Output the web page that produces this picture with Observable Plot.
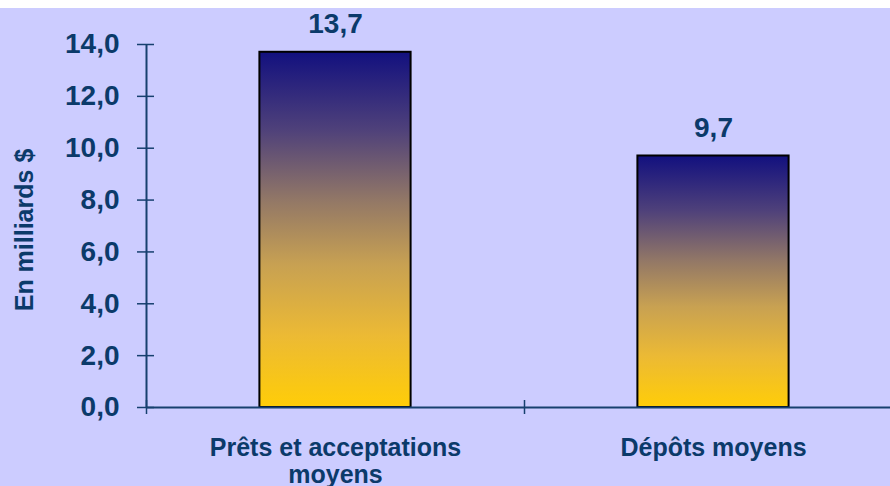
<!DOCTYPE html>
<html><head><meta charset="utf-8">
<script src="https://cdn.jsdelivr.net/npm/d3@7"></script>
<script src="https://cdn.jsdelivr.net/npm/@observablehq/plot@0.6"></script>
<style>
html,body{margin:0;padding:0;background:#ffffff;}
body{padding-top:8px;}
#chart svg{display:block;}
</style></head><body><div id="chart"></div>
<script>
const categories = ["Prêts et acceptations\nmoyens", "Dépôts moyens"];
const values = [13.7, 9.7];
const yTicks = [0, 2, 4, 6, 8, 10, 12, 14];
const yTitle = "En milliards $";
const separators = [0, 1, 2];

const textColor = "#0b3a6a";
const lineColor = "#17406f";
const fmt = d => d.toFixed(1).replace(".", ",");
const data = categories.map((c, i) => ({category: c, value: values[i], pos: i + 0.5}));

const svg = Plot.plot({
  width: 890,
  height: 478,
  marginLeft: 146,
  marginRight: 0,
  marginTop: 36,
  marginBottom: 79,
  x: {domain: [0, 2], range: [146, 902], label: null},
  y: {domain: [0, 14], label: null},
  style: {background: "#ccccff", fontFamily: "'Liberation Sans', Arial, sans-serif", fontWeight: "bold", color: textColor},
  marks: [
    Plot.rectY(data, {x1: d => d.pos - 0.2, x2: d => d.pos + 0.2, y1: 0, y2: "value", fill: "url(#barGrad)", stroke: "#000000", strokeWidth: 2}),
    Plot.ruleX([0], {y1: 0, y2: 14, stroke: lineColor, strokeWidth: 2}),
    Plot.ruleY([0], {stroke: lineColor, strokeWidth: 2}),
    Plot.axisY({ticks: yTicks, tickSize: 17, dx: 8, text: null, label: null, stroke: lineColor, strokeWidth: 1.5}),
    Plot.axisY({ticks: yTicks, tickSize: 0, tickPadding: 27, tickFormat: fmt, label: null, fontSize: 28, fill: textColor}),
    Plot.axisX({ticks: separators, tickSize: 14, dy: -7, text: null, label: null, stroke: lineColor, strokeWidth: 1.5}),
    Plot.axisX({ticks: data.map(d => d.pos), tickSize: 0, tickPadding: 30, tickFormat: d => categories[Math.floor(d)], label: null, fontSize: 25, lineHeight: 1.06, fill: textColor}),
    Plot.text(data, {x: "pos", y: "value", text: d => fmt(d.value), dy: -28, fontSize: 28, fontWeight: "bold", fill: textColor}),
    Plot.text([yTitle], {frameAnchor: "left", textAnchor: "middle", lineAnchor: "middle", rotate: -90, dx: -122, dy: 4, fontSize: 25, fontWeight: "bold", fill: textColor})
  ]
});

d3.select(svg).insert("defs", ":first-child").html(
  `<linearGradient id="barGrad" x1="0" y1="0" x2="0" y2="1">
     <stop offset="0" stop-color="#12107f"/>
     <stop offset="0.22" stop-color="#4f417a"/>
     <stop offset="0.42" stop-color="#937866"/>
     <stop offset="0.6" stop-color="#c8a152"/>
     <stop offset="0.8" stop-color="#ecba34"/>
     <stop offset="1" stop-color="#ffcd08"/>
   </linearGradient>`
);

document.getElementById("chart").appendChild(svg);
</script>
</body></html>
